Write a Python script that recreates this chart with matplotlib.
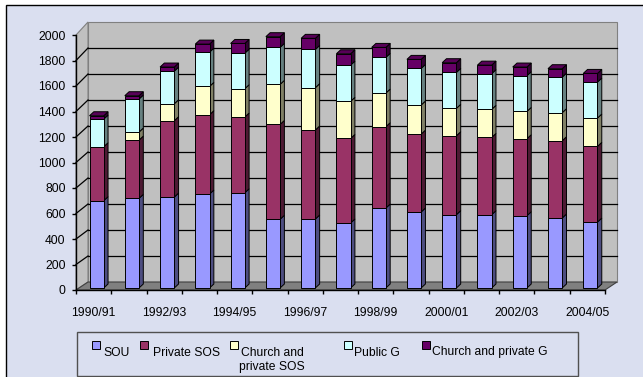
import numpy as np
import matplotlib.pyplot as plt
from matplotlib.patches import Polygon, Rectangle

years = ['1990/91', '1991/92', '1992/93', '1993/94', '1994/95', '1995/96',
         '1996/97', '1997/98', '1998/99', '1999/00', '2000/01', '2001/02',
         '2002/03', '2003/04', '2004/05']

sou = [685, 703, 713, 737, 747, 539, 541, 510, 627, 596, 575, 575, 567, 549, 517]
private_sos = [423, 457, 599, 622, 594, 744, 698, 663, 638, 611, 619, 606, 604, 606, 594]
church_sos = [0, 63, 133, 222, 222, 314, 332, 291, 264, 228, 215, 220, 214, 220, 222]
public_g = [217, 259, 256, 269, 279, 290, 300, 284, 280, 287, 282, 280, 280, 279, 282]
church_g = [26, 26, 32, 63, 76, 84, 87, 89, 78, 71, 76, 67, 68, 66, 68]

series_labels = ['SOU', 'Private SOS', 'Church and\nprivate SOS', 'Public G',
                 'Church and private G']
colors = ['#9999FF', '#993366', '#FFFFCC', '#CCFFFF', '#660066']

W, H = 643, 377
BG = '#DADFF0'


def shade(c, f):
    r, g, b = plt.matplotlib.colors.to_rgb(c)
    return (r * f, g * f, b * f)


def px(x, y):
    # pixel position (from top-left) -> figure fraction
    return x / W, 1 - y / H


def main():
    plt.rcParams['font.family'] = ['Liberation Sans', 'DejaVu Sans']
    plt.rcParams['font.size'] = 8.7

    fig = plt.figure(figsize=(W / 100, H / 100), dpi=100, facecolor='white')
    fig.add_artist(Rectangle(px(5.5, 400), 700 / W, 395 / H, transform=fig.transFigure,
                             facecolor=BG, edgecolor='black', lw=1, zorder=0))

    ax = fig.add_axes([76 / W, 1 - 290 / H, 529 / W, 255 / H])
    ax.set_facecolor('none')
    n = len(years)
    ax.set_xlim(0, n)
    ax.set_ylim(0, 2000)

    # 3D wall geometry in data units
    wx = 12 / (529 / n)

    def back(v):
        return 62.7 + 1.0196 * v

    wall = '#C0C0C0'
    ax.add_patch(Polygon([(wx, back(0)), (n + wx, back(0)), (n + wx, back(2000)), (wx, back(2000))],
                         closed=True, facecolor=wall, edgecolor='#808080', lw=0.8,
                         clip_on=False, zorder=1))
    ax.add_patch(Polygon([(0, 0), (wx, back(0)), (wx, back(2000)), (0, 2000)],
                         closed=True, facecolor=wall, edgecolor='#808080', lw=0.8,
                         clip_on=False, zorder=1))
    for v in range(200, 2000, 200):
        ax.plot([wx, n + wx], [back(v)] * 2, color='black', lw=0.9, clip_on=False, zorder=2)
        ax.plot([0, wx], [v, back(v)], color='black', lw=0.9, clip_on=False, zorder=2)
    ax.add_patch(Polygon([(0, 0), (n, 0), (n + wx, back(0)), (wx, back(0))],
                         closed=True, facecolor='#808080', edgecolor='#404040', lw=0.8,
                         clip_on=False, zorder=2))

    # stacked 3D columns
    series = [sou, private_sos, church_sos, public_g, church_g]
    x = np.arange(n) + 0.5 + 3 / (529 / n)
    w = 0.403
    ddx = 4.3 / (529 / n)
    ddy = 4 / 0.1275
    lift = 2 / 0.1275
    bottom = np.zeros(n)
    for k, vals in enumerate(series):
        vals = np.array(vals, dtype=float)
        for i in range(n):
            if vals[i] <= 0:
                continue
            b = bottom[i] + lift
            t = b + vals[i]
            xr = x[i] + w / 2
            ax.add_patch(Polygon([(xr, b), (xr + ddx, b + ddy), (xr + ddx, t + ddy), (xr, t)],
                                 closed=True, facecolor=shade(colors[k], 0.5),
                                 edgecolor='black', lw=0.7, clip_on=False, zorder=3 + i))
            ax.add_patch(Rectangle((x[i] - w / 2, b), w, vals[i], facecolor=colors[k],
                                   edgecolor='black', lw=0.7, clip_on=False, zorder=3 + i))
            if k == len(series) - 1:
                xl = x[i] - w / 2
                ax.add_patch(Polygon([(xl, t), (xr, t), (xr + ddx, t + ddy), (xl + ddx, t + ddy)],
                                     closed=True, facecolor=shade(colors[k], 0.85),
                                     edgecolor='black', lw=0.7, clip_on=False, zorder=3 + i))
        bottom += vals

    for s in ['top', 'right']:
        ax.spines[s].set_visible(False)
    ax.spines['left'].set_linewidth(1)
    ax.spines['bottom'].set_linewidth(1)
    ax.spines['left'].set_zorder(30)
    ax.spines['bottom'].set_zorder(30)

    ax.set_yticks(range(0, 2001, 200))
    ax.tick_params(axis='y', direction='out', length=3, width=1, pad=4.5)
    ax.set_xticks(range(n + 1))
    ax.set_xticklabels([])
    ax.set_xticks(np.arange(0, n, 2) + 0.5, years[::2], minor=True)
    ax.tick_params(axis='x', which='major', direction='out', length=3, width=1)
    ax.tick_params(axis='x', which='minor', length=0, pad=12)

    # legend
    fig.add_artist(Rectangle(px(77, 376), 501 / W, 44 / H, transform=fig.transFigure,
                             facecolor=BG, edgecolor='#505050', lw=1, zorder=1))
    mx = [91.7, 140, 230, 344.3, 422.3]
    tx = [103.3, 152.7, 239.3, 354, 431.7]
    for k in range(len(series_labels)):
        fig.add_artist(Rectangle(px(mx[k], 348.5), 8 / W, 7.5 / H, transform=fig.transFigure,
                                 facecolor=colors[k], edgecolor='black', lw=0.7, zorder=2))
        fig.text(*px(tx[k], 346.5), series_labels[k], ha='left', va='top',
                 multialignment='center', linespacing=1.3, zorder=2)

    fig.savefig('out.png', dpi=100, facecolor='white')


if __name__ == '__main__':
    main()
